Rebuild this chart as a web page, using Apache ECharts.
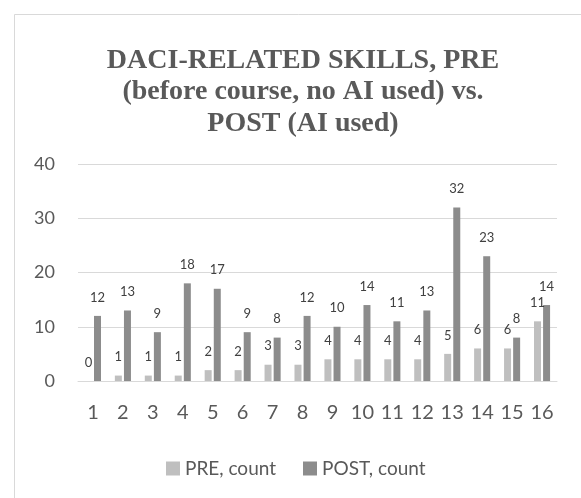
<!DOCTYPE html>
<html>
<head>
<meta charset="utf-8">
<script src="https://cdn.jsdelivr.net/npm/echarts@6/dist/echarts.min.js"></script>
<style>
  html, body { margin: 0; padding: 0; background: #fff; }
  #main { width: 581px; height: 498px; }
</style>
</head>
<body>
<div id="main"></div>
<script>
  // data
  var categories = ['1', '2', '3', '4', '5', '6', '7', '8', '9', '10', '11', '12', '13', '14', '15', '16'];
  var preCount = [0, 1, 1, 1, 2, 2, 3, 3, 4, 4, 4, 4, 5, 6, 6, 11];
  var postCount = [12, 13, 9, 18, 17, 9, 8, 12, 10, 14, 11, 13, 32, 23, 8, 14];

  var myChart = echarts.init(document.getElementById('main'));

  var option = {
    backgroundColor: '#fff',
    animation: false,
    // outer frame
    graphic: [{
      type: 'rect',
      shape: { x: 14.5, y: 14.5, width: 700, height: 700 },
      style: { fill: 'none', stroke: '#d9d9d9', lineWidth: 1 }
    }],
    title: {
      text: 'DACI-RELATED SKILLS, PRE\n(before course, no AI used) vs.\nPOST (AI used)',
      left: 298,
      top: 40,
      textAlign: 'center',
      textStyle: {
        fontFamily: '"Liberation Serif", "DejaVu Serif", serif',
        fontWeight: 'bold',
        fontSize: 28,
        lineHeight: 31.5,
        color: '#595959'
      }
    },
    legend: {
      left: 161,
      top: 454,
      itemWidth: 14,
      itemHeight: 14,
      itemGap: 27,
      icon: 'rect',
      textStyle: { fontFamily: 'Lato', fontSize: 19, color: '#595959' },
      data: ['PRE, count', 'POST, count']
    },
    grid: { left: 78, right: 24, top: 164, bottom: 117 },
    xAxis: {
      type: 'category',
      data: categories,
      axisLine: { lineStyle: { color: '#d9d9d9', width: 1 } },
      axisTick: { show: false },
      axisLabel: { interval: 0, fontFamily: 'Lato', fontSize: 20, color: '#595959', margin: 22 }
    },
    yAxis: {
      type: 'value',
      min: 0,
      max: 40,
      interval: 10,
      axisLine: { show: false },
      axisTick: { show: false },
      splitLine: { lineStyle: { color: '#d9d9d9', width: 1 } },
      axisLabel: { fontFamily: 'Lato', fontSize: 18, color: '#595959', margin: 23 }
    },
    series: [
      {
        name: 'PRE, count',
        type: 'bar',
        data: preCount,
        barWidth: 7,
        barGap: '30%',
        itemStyle: { color: '#bfbfbf' },
        label: { show: true, position: 'top', distance: 12, fontFamily: 'Lato', fontSize: 13, color: '#404040' }
      },
      {
        name: 'POST, count',
        type: 'bar',
        data: postCount,
        barWidth: 7,
        barGap: '30%',
        itemStyle: { color: '#8c8c8c' },
        label: { show: true, position: 'top', distance: 12, fontFamily: 'Lato', fontSize: 13, color: '#404040' }
      }
    ]
  };

  myChart.setOption(option);
</script>
</body>
</html>
